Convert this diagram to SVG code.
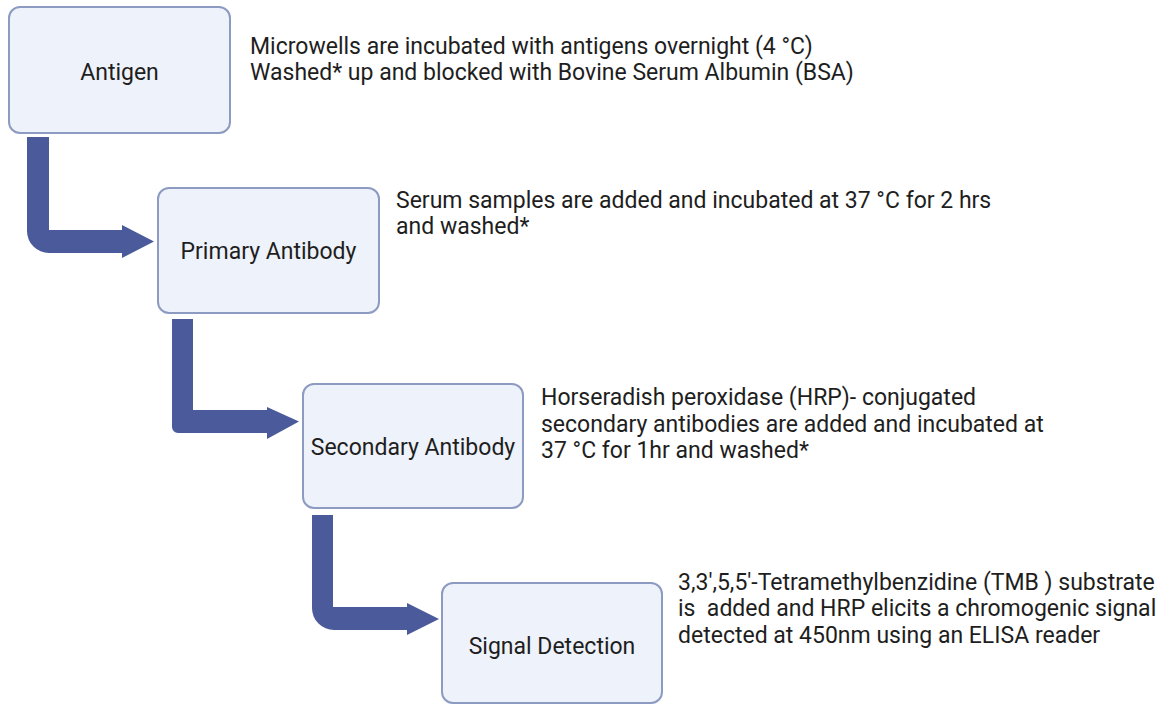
<svg xmlns="http://www.w3.org/2000/svg" width="1175" height="706" viewBox="0 0 1175 706">
<style>
.box{fill:#eef2fa;stroke:#8d9bc2;stroke-width:2}
.lbl{font-family:Roboto,"Liberation Sans",sans-serif;font-size:23px;fill:#1e1e1e;text-anchor:middle}
.desc{font-family:Roboto,"Liberation Sans",sans-serif;font-size:23px;fill:#1e1e1e;white-space:pre}
.arr{fill:#4b5a9b}
</style>
<rect width="1175" height="706" fill="#ffffff"/>
<g id="connectors">
<path class="arr" d="M27,137 H49 V230 H122 V225 L154,241.5 L122,258 V253 H49 A22,22 0 0 1 27,231 Z"/>
<path class="arr" d="M172,319 H193 V410 H267 V407 L299,421.5 L267,439 V433 H178 A6,6 0 0 1 172,427 Z"/>
<path class="arr" d="M312,515 H333 V607 H407 V603 L439,619 L407,635 V630 H334 A22,22 0 0 1 312,608 Z"/>
</g>
<g id="node-antigen">
<rect class="box" x="9" y="7" width="221" height="126" rx="11"/>
<text class="lbl" x="119.5" y="80">Antigen</text>
</g>
<g id="node-primary">
<rect class="box" x="158" y="188" width="221" height="125" rx="11"/>
<text class="lbl" x="268.5" y="259">Primary Antibody</text>
</g>
<g id="node-secondary">
<rect class="box" x="303" y="384" width="220" height="124" rx="11"/>
<text class="lbl" x="413" y="455">Secondary Antibody</text>
</g>
<g id="node-signal">
<rect class="box" x="442" y="583" width="220" height="120" rx="11"/>
<text class="lbl" x="552" y="654">Signal Detection</text>
</g>
<g id="descriptions">
<text class="desc" x="250" y="54">Microwells are incubated with antigens overnight (4 °C)</text>
<text class="desc" x="250" y="80">Washed* up and blocked with Bovine Serum Albumin (BSA)</text>
<text class="desc" x="396" y="208">Serum samples are added and incubated at 37 °C for 2 hrs</text>
<text class="desc" x="396" y="234">and washed*</text>
<text class="desc" x="541" y="405">Horseradish peroxidase (HRP)- conjugated</text>
<text class="desc" x="541" y="432">secondary antibodies are added and incubated at</text>
<text class="desc" x="541" y="458">37 °C for 1hr and washed*</text>
<text class="desc" x="678" y="590">3,3',5,5'-Tetramethylbenzidine (TMB ) substrate</text>
<text class="desc" x="678" y="616" xml:space="preserve">is  added and HRP elicits a chromogenic signal</text>
<text class="desc" x="678" y="643">detected at 450nm using an ELISA reader</text>
</g>
</svg>
